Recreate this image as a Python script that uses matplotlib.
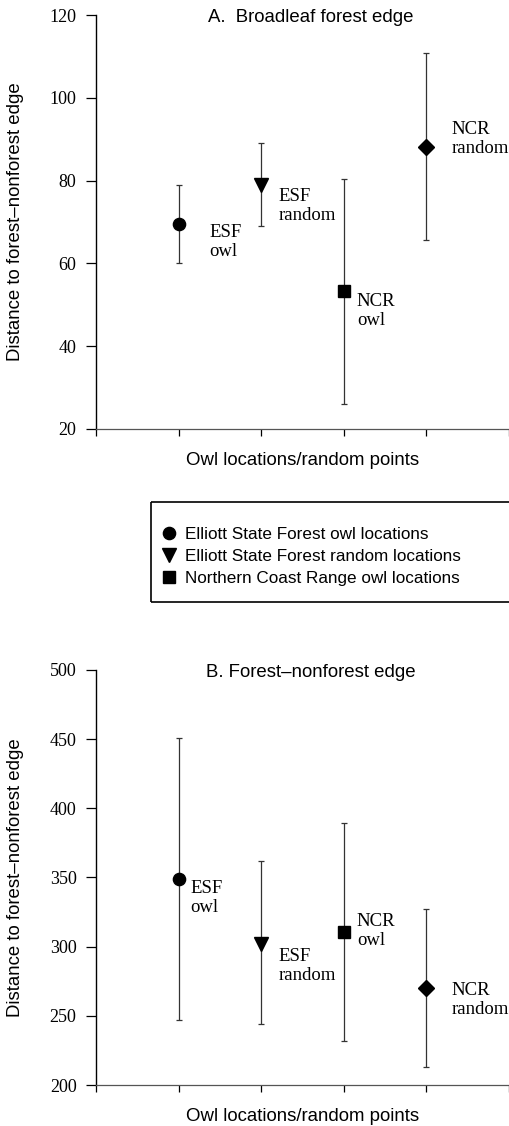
import numpy as np
import matplotlib
matplotlib.use("Agg")
import matplotlib.pyplot as plt
from matplotlib.lines import Line2D

# Data
groups = ["ESF\nowl", "ESF\nrandom", "NCR\nowl", "NCR\nrandom"]
markers = ["o", "v", "s", "D"]
legend_labels = ["Elliott State Forest owl locations",
                 "Elliott State Forest random locations",
                 "Northern Coast Range owl locations"]

# A. Broadleaf forest edge: mean, upper, lower
a_mean = [69.5, 79.0, 53.4, 88.1]
a_upper = [79.0, 89.2, 80.4, 110.8]
a_lower = [60.0, 69.0, 26.1, 65.7]
a_ticks = [20, 40, 60, 80, 100, 120]

# B. Forest-nonforest edge
b_mean = [348.8, 302.0, 310.7, 270.0]
b_upper = [450.8, 361.8, 389.3, 327.3]
b_lower = [247.0, 243.8, 232.0, 213.2]
b_ticks = [200, 250, 300, 350, 400, 450, 500]

W, H = 510, 1126
fig = plt.figure(figsize=(W / 100, H / 100), dpi=100)

serif = "Liberation Serif"
sans = "Liberation Sans"
msize = {"o": 8.8, "v": 10, "s": 9.0, "D": 8.2}

# label offsets in pixels (dx, dy of text top-left from marker)
a_offsets = [(31, 0), (17, -3), (13, -2), (25, 26)]
b_offsets = [(12, -1), (17, -4), (13, 19), (25, 6)]


def panel(rect, mean, upper, lower, ticks, title, offsets):
    ax = fig.add_axes(rect)
    x = np.arange(1, len(mean) + 1)
    mean = np.array(mean)
    yerr = [mean - np.array(lower), np.array(upper) - mean]
    ax.errorbar(x, mean, yerr=yerr, fmt="none", ecolor="#333333",
                elinewidth=0.9, capsize=2.5, capthick=0.9)
    handles = []
    for xi, yi, m in zip(x, mean, markers):
        h, = ax.plot(xi, yi, marker=m, color="black", linestyle="none",
                     markersize=msize[m], clip_on=False, zorder=3)
        handles.append(h)
    for xi, yi, g, (dx, dy) in zip(x, mean, groups, offsets):
        ax.annotate(g, (xi, yi), xytext=(dx, dy), textcoords="offset pixels",
                    ha="left", va="top", family=serif, fontsize=13.5,
                    linespacing=1.15, annotation_clip=False)
    ax.set_xlim(0, 5)
    ax.set_ylim(ticks[0], ticks[-1])
    ax.set_xticks(range(0, 6))
    ax.set_xticklabels([])
    ax.set_yticks(ticks)
    ax.set_yticklabels([str(t) for t in ticks], family=serif, fontsize=13)
    ax.tick_params(axis="y", direction="out", length=7, width=0.9, pad=7)
    ax.tick_params(axis="x", direction="out", length=5, width=0.9)
    for s in ["top", "right"]:
        ax.spines[s].set_visible(False)
    ax.spines["left"].set_linewidth(1.0)
    ax.spines["bottom"].set_linewidth(0.9)
    ax.spines["bottom"].set_color("#555555")
    ax.text(0.52, 1 - 7 / (rect[3] * H), title, transform=ax.transAxes,
            ha="center", va="baseline", family=sans, fontsize=13.4)
    ax.text(0.5, -36 / (rect[3] * H), "Owl locations/random points",
            transform=ax.transAxes, ha="center", va="baseline",
            family=sans, fontsize=13.4)
    ax.set_ylabel("Distance to forest\u2013nonforest edge", family=sans,
                  fontsize=13.4)
    ax.yaxis.set_label_coords(-(96 - 24) / (rect[2] * W), 0.5)
    return ax, handles


left, width = 96 / W, 413 / W
axA, hA = panel([left, 1 - 429 / H, width, 414 / H], a_mean, a_upper, a_lower,
                a_ticks, "A.  Broadleaf forest edge", a_offsets)
axB, hB = panel([left, 1 - 1085 / H, width, 415 / H], b_mean, b_upper, b_lower,
                b_ticks, "B. Forest\u2013nonforest edge", b_offsets)

# legend box runs off the right edge of the figure (open on the right)
bx0, bx1 = 151 / W, 0.998
by0, by1 = 1 - 602 / H, 1 - 502 / H
box_kw = dict(transform=fig.transFigure, color="black", linewidth=1.2,
              solid_capstyle="butt")
fig.add_artist(Line2D([bx0, bx1], [by1, by1], **box_kw))
fig.add_artist(Line2D([bx0, bx1], [by0, by0], **box_kw))
fig.add_artist(Line2D([bx0, bx0], [by0, by1], **box_kw))
leg = fig.legend(hA[:3], legend_labels, loc="upper left",
                 bbox_to_anchor=(151 / W, 1 - 503 / H),
                 borderaxespad=0, frameon=False, title=" ",
                 title_fontsize=1, handlelength=0.2, handletextpad=0.84,
                 labelspacing=0.4, borderpad=0.95,
                 prop={"family": sans, "size": 12.3})

fig.savefig("out.png", dpi=100)
